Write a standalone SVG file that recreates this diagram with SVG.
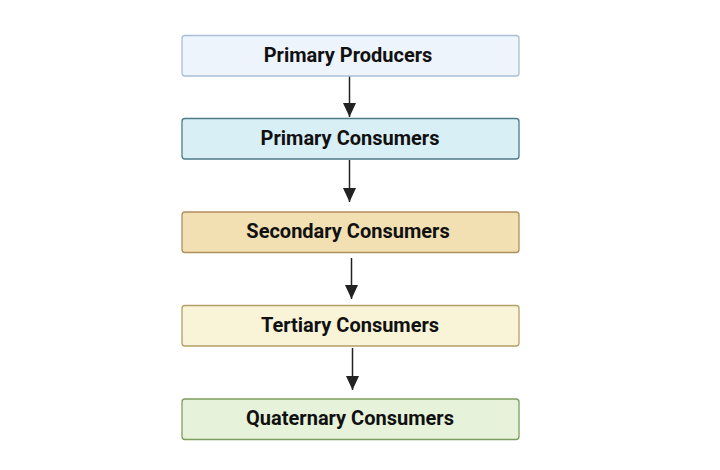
<svg xmlns="http://www.w3.org/2000/svg" width="720" height="470" viewBox="0 0 720 470">
<defs>
<marker id="ah" viewBox="0 0 14 14" refX="14" refY="7" markerWidth="14" markerHeight="14" markerUnits="userSpaceOnUse" orient="auto">
<path d="M0,0.5 L14,7 L0,13.5 z" fill="#222"/>
</marker>
<style>
.box{stroke-width:1.3}
.lbl{font-family:Roboto,"Liberation Sans",sans-serif;font-weight:bold;font-size:20px;fill:#111;text-anchor:middle;dominant-baseline:central}
.edge{stroke:#222;stroke-width:1.5;fill:none;marker-end:url(#ah)}
</style>
</defs>
<rect width="720" height="470" fill="#fff"/>
<g id="edges">
<line class="edge" x1="349.5" y1="76" x2="349.5" y2="117"/>
<line class="edge" x1="349.5" y1="160" x2="349.5" y2="202"/>
<line class="edge" x1="351.5" y1="258" x2="351.5" y2="299"/>
<line class="edge" x1="352.5" y1="348" x2="352.5" y2="390"/>
</g>
<g id="n1"><rect class="box" x="182" y="35.5" width="337" height="40.5" rx="3" fill="#eef4fc" stroke="#a9bed6"/><text class="lbl" x="348" y="54.5">Primary Producers</text></g>
<g id="n2"><rect class="box" x="182" y="118.5" width="337" height="40.5" rx="3" fill="#d9eff6" stroke="#4d7b88"/><text class="lbl" x="350" y="137.5">Primary Consumers</text></g>
<g id="n3"><rect class="box" x="182" y="212" width="337" height="40.5" rx="3" fill="#f2e0b3" stroke="#b08f5c"/><text class="lbl" x="348" y="231">Secondary Consumers</text></g>
<g id="n4"><rect class="box" x="182" y="305.5" width="337" height="40.5" rx="3" fill="#f9f4d8" stroke="#b3a066"/><text class="lbl" x="350" y="324.5">Tertiary Consumers</text></g>
<g id="n5"><rect class="box" x="182" y="399" width="337" height="40.5" rx="3" fill="#e6f3da" stroke="#7d9d5e"/><text class="lbl" x="350" y="418">Quaternary Consumers</text></g>
</svg>
